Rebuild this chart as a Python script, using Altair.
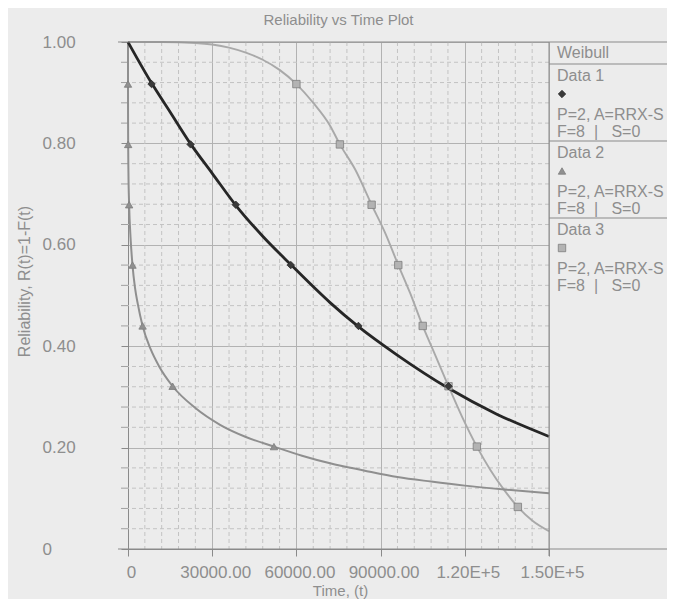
import altair as alt
import pandas as pd

# ---------------- text ----------------
title_text = "Reliability vs Time Plot"
x_title = "Time, (t)"
y_title = "Reliability, R(t)=1-F(t)"
legend_header = "Weibull"
series_names = ["Data 1", "Data 2", "Data 3"]
legend_param1 = "P=2, A=RRX-S"
legend_param2 = "\u00a0F=8\u00a0\u00a0|\u00a0\u00a0\u00a0S=0"

# ---------------- data ----------------
# Data 1 : fitted curve and plotted points
t1 = [0, 8400, 15000, 22300, 30000, 38400, 48000, 58000, 72000, 82100, 95800, 114200, 131400, 150000]
r1 = [1.0, 0.919, 0.862, 0.799, 0.741, 0.678, 0.617, 0.561, 0.486, 0.4385, 0.383, 0.317, 0.266, 0.222]
t1_pts = [8400, 22300, 38400, 58000, 82100, 114200]
r1_pts = [0.917, 0.798, 0.679, 0.56, 0.44, 0.321]

# Data 2
t2 = [0, 2, 20, 60, 150, 400, 900, 1600, 2500, 3500, 5200, 8000, 11000, 15900, 24000,
      32800, 42000, 52000, 62000, 72000, 84000, 96000, 108000, 120000, 135000, 150000]
r2 = [1.0, 0.917, 0.85, 0.798, 0.745, 0.679, 0.615, 0.56, 0.515, 0.483, 0.44, 0.395, 0.361,
      0.321, 0.278, 0.245, 0.221, 0.202, 0.184, 0.169, 0.155, 0.142, 0.133, 0.125, 0.117, 0.11]
t2_pts = [2, 60, 400, 1600, 5200, 15900, 52000]
r2_pts = [0.917, 0.798, 0.679, 0.56, 0.44, 0.321, 0.202]

# Data 3
t3 = [0, 12000, 24000, 30000, 36000, 42000, 48000, 54000, 60000, 66000, 72000, 75500, 81000,
      86800, 91500, 96300, 100500, 105000, 109500, 114200, 119000, 124300, 129000, 133800,
      138900, 144000, 150000]
r3 = [1.0, 1.0, 0.998, 0.995, 0.989, 0.979, 0.965, 0.945, 0.917, 0.88, 0.835, 0.798, 0.748,
      0.679, 0.625, 0.56, 0.505, 0.44, 0.382, 0.321, 0.261, 0.202, 0.157, 0.118, 0.083, 0.056, 0.035]
t3_pts = [60000, 75500, 86800, 96300, 105000, 114200, 124300, 138900]
r3_pts = [0.917, 0.798, 0.679, 0.56, 0.44, 0.321, 0.202, 0.083]

x_major = [0, 30000, 60000, 90000, 120000, 150000]
x_minor = [6000 * k for k in range(26) if k % 5]
y_major = [0.0, 0.2, 0.4, 0.6, 0.8, 1.0]
y_minor = [round(0.04 * k, 2) for k in range(26) if k % 5]

# ---------------- style ----------------
FONT = "Liberation Sans"
TXT = "#8e8e8e"
AXC = "#8a8a8a"
line_colors = ["#262626", "#8f8f8f", "#a9a9a9"]
line_widths = [2.8, 2.0, 1.9]
pt_shapes = ["diamond", "triangle-up", "square"]
pt_fill = ["#3a3a3a", "#909090", "#b3b3b3"]
pt_stroke = ["#2c2c2c", "#7d7d7d", "#7d7d7d"]
pt_size = 55

W, H = 421, 507

x_scale = alt.Scale(domain=[0, 150000], nice=False, zero=False)
y_scale = alt.Scale(domain=[0, 1], nice=False, zero=False)

x_axis = alt.Axis(
    orient="bottom", values=x_major,
    labelExpr="datum.value == 0 ? '0' : (datum.value < 100000 ? format(datum.value, '.2f') : replace(format(datum.value, '.2e'), 'e', 'E'))",
    labelFont=FONT, labelFontSize=17, labelColor=TXT, labelPadding=8, labelFlush=False,
    labelOverlap=False, labelOffset=3,
    tickSize=7, tickColor=AXC, tickWidth=1,
    grid=True, gridColor="#b2b2b2", gridWidth=1,
    domain=True, domainColor=AXC, domainWidth=1,
    title=x_title, titleFont=FONT, titleFontSize=15, titleFontWeight="normal", titleColor=TXT,
    titleX=212, titleY=41, titleBaseline="middle", titleAlign="center",
)
y_axis = alt.Axis(
    orient="left", values=y_major,
    labelExpr="datum.value == 0 ? '0' : format(datum.value, '.2f')",
    labelFont=FONT, labelFontSize=17, labelColor=TXT, labelAlign="left", labelPadding=79,
    labelOverlap=False, labelFlush=False,
    tickSize=7, tickColor=AXC, tickWidth=1,
    grid=True, gridColor="#b2b2b2", gridWidth=1,
    domain=True, domainColor=AXC, domainWidth=1,
    title=y_title, titleFont=FONT, titleFontSize=16, titleFontWeight="normal", titleColor=TXT,
    titleX=-104, titleY=239, titleAngle=270, titleBaseline="middle", titleAlign="center",
)

X = lambda **kw: alt.X("t:Q", scale=x_scale, **kw)
Y = lambda **kw: alt.Y("R:Q", scale=y_scale, **kw)

layers = []

# minor (dashed) grid, drawn from the tick lists through the chart's scales;
# these first layers carry the (major) axes of the whole chart
layers.append(
    alt.Chart(pd.DataFrame({"t": x_minor})).mark_rule(color="#c3c3c3", strokeWidth=1, strokeDash=[4, 3])
    .encode(x=X(axis=x_axis))
)
layers.append(
    alt.Chart(pd.DataFrame({"R": y_minor})).mark_rule(color="#c3c3c3", strokeWidth=1, strokeDash=[4, 3])
    .encode(y=Y(axis=y_axis))
)
# minor ticks on the left axis
layers.append(
    alt.Chart(pd.DataFrame({"R": y_minor})).mark_rule(color="#a0a0a0", strokeWidth=1)
    .encode(y=Y(), x=alt.value(-7), x2=alt.value(0))
)

curves = [(t1, r1), (t2, r2), (t3, r3)]
points = [(t1_pts, r1_pts), (t2_pts, r2_pts), (t3_pts, r3_pts)]

# draw the lighter series first so the dark one sits on top
for i in [2, 1, 0]:
    ts, rs = curves[i]
    df = pd.DataFrame({"series": series_names[i], "t": ts, "R": rs})
    layers.append(
        alt.Chart(df).mark_line(color=line_colors[i], strokeWidth=line_widths[i], interpolate="monotone")
        .encode(x=X(), y=Y())
    )
for i in [2, 1, 0]:
    ts, rs = points[i]
    df = pd.DataFrame({"series": series_names[i], "t": ts, "R": rs})
    layers.append(
        alt.Chart(df).mark_point(shape=pt_shapes[i], filled=True, fill=pt_fill[i], stroke=pt_stroke[i],
                                 strokeWidth=0.8, size=pt_size, opacity=1)
        .encode(x=X(), y=Y())
    )

one = pd.DataFrame({"k": [0]})


def hrule(y, x0, x1, color=AXC):
    return alt.Chart(one).mark_rule(color=color, strokeWidth=1).encode(
        x=alt.value(x0), x2=alt.value(x1), y=alt.value(y))


def vrule(x, y0, y1, color=AXC):
    return alt.Chart(one).mark_rule(color=color, strokeWidth=1).encode(
        x=alt.value(x), y=alt.value(y0), y2=alt.value(y1))


def label(txt, x, y, size=16):
    return alt.Chart(pd.DataFrame({"label": [txt]})).mark_text(
        align="left", baseline="middle", font=FONT, fontSize=size, color=TXT
    ).encode(text="label:N", x=alt.value(x), y=alt.value(y))


# frame lines that run into the legend panel
layers.append(hrule(0, -10, 560))
layers.append(hrule(H, -10, 560))
layers.append(vrule(W, 0, H + 7))

# legend panel
LX = W + 8
BLOCK = 77
layers.append(label(legend_header, LX, 11))
for i, name in enumerate(series_names):
    top = 22 + BLOCK * i
    layers.append(hrule(top, W, 560))
    layers.append(label(name, LX, top + 12))
    layers.append(
        alt.Chart(pd.DataFrame({"series": [name]})).mark_point(
            shape=pt_shapes[i], filled=True, fill=pt_fill[i], stroke=pt_stroke[i],
            strokeWidth=0.8, size=pt_size, opacity=1
        ).encode(x=alt.value(LX + 5), y=alt.value(top + 30))
    )
    layers.append(label(legend_param1, LX, top + 51))
    layers.append(label(legend_param2, LX, top + 68))

chart = (
    alt.layer(*layers)
    .properties(
        width=W, height=H,
        title=alt.TitleParams(title_text, font=FONT, fontSize=15, fontWeight="normal", color=TXT,
                              anchor="middle", frame="group", offset=5),
        background="#ececec",
        autosize=alt.AutoSizeParams(type="none"),
        padding={"left": 120, "top": 34, "right": 118, "bottom": 50},
    )
    .configure_view(stroke=None)
)

chart.save("out.html", embed_options={"renderer": "svg", "actions": False})
